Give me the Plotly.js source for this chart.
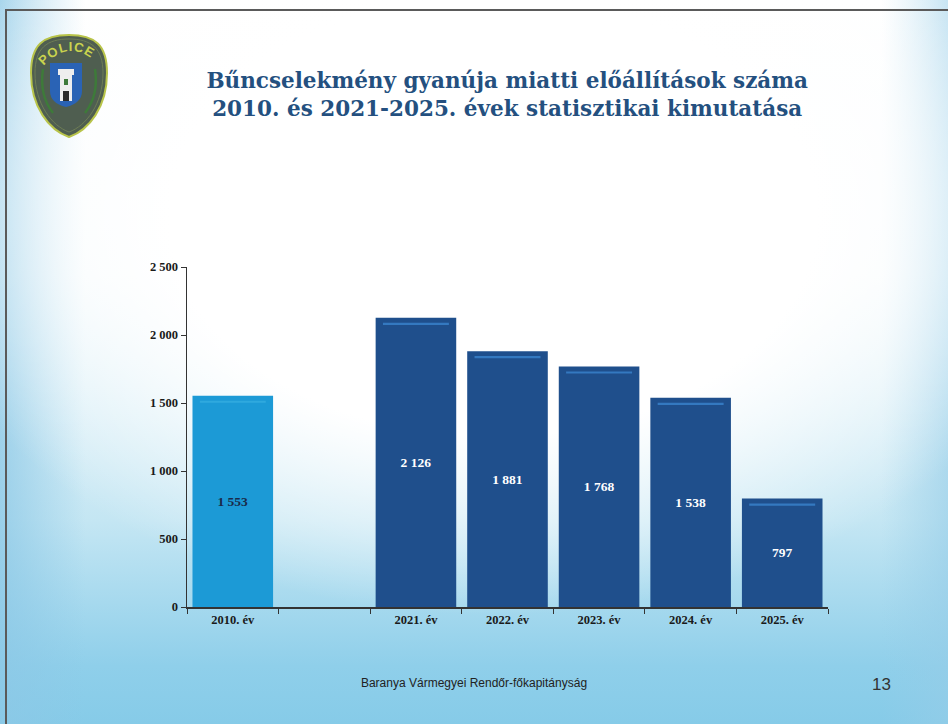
<!DOCTYPE html>
<html>
<head>
<meta charset="utf-8">
<script src="https://cdn.plot.ly/plotly-3.0.1.min.js"></script>
<style>
  html, body { margin: 0; padding: 0; }
  body {
    width: 948px; height: 724px; overflow: hidden; position: relative;
    background:
      radial-gradient(ellipse 62% 55% at 52% 30%, #ffffff 55%, rgba(255,255,255,0) 100%),
      linear-gradient(to right, rgba(140,200,230,0.75) 0%, rgba(255,255,255,0) 9%, rgba(255,255,255,0) 93%, rgba(150,205,232,0.6) 100%),
      linear-gradient(to bottom, #ffffff 0%, #f4fafc 38%, #c4e6f3 72%, #8fcfea 92%, #86cbe8 100%);
  }
  #frame { position: absolute; left: 5px; top: 9px; width: 960px; height: 730px;
           border-top: 2px solid #5a5a5a; border-left: 2px solid #5a5a5a; box-sizing: border-box; }
  #chart { position: absolute; left: 0; top: 0; width: 948px; height: 724px; }
  #logo { position: absolute; left: 29px; top: 33px; width: 80px; height: 106px; }
  .foot { position: absolute; font-family: "Liberation Sans", Arial, sans-serif; color: #222; }
</style>
</head>
<body>
<div id="frame"></div>
<svg id="logo" viewBox="0 0 80 106">
  <defs>
    <path id="arcTop" d="M 12 36 Q 40 2 70 32" />
  </defs>
  <path d="M 40 2 C 66 2 78 12 78 40 C 78 74 60 97 40 104 C 20 97 2 74 2 40 C 2 12 14 2 40 2 Z"
        fill="#4f5e50" stroke="#b8c44a" stroke-width="2"/>
  <path d="M 40 6 C 62 6 74 15 74 40 C 74 71 57 93 40 99 C 23 93 6 71 6 40 C 6 15 18 6 40 6 Z"
        fill="none" stroke="#6d7d55" stroke-width="1"/>
  <text font-family="Liberation Sans, Arial" font-weight="bold" font-size="13" fill="#c9d34e" letter-spacing="1">
    <textPath href="#arcTop" startOffset="4">POLICE</textPath>
  </text>
  <path d="M 14 36 Q 10 62 24 80" fill="none" stroke="#3e7a3a" stroke-width="2.5"/>
  <path d="M 66 36 Q 70 62 56 80" fill="none" stroke="#3e7a3a" stroke-width="2.5"/>
  <path d="M 21 30 H 53 V 58 Q 53 70 37 74 Q 21 70 21 58 Z" fill="#2a63b5"/>
  <rect x="31" y="40" width="12" height="28" fill="#eeeeee"/>
  <rect x="29" y="36" width="16" height="6" fill="#eeeeee"/>
  <rect x="34" y="58" width="6" height="10" fill="#2b2b2b"/>
  <rect x="35" y="46" width="4" height="6" fill="#3e7a3a"/>
</svg>
<div id="chart"></div>
<div class="foot" style="left:0;width:948px;top:676px;text-align:center;font-size:12px;">Baranya Vármegyei Rendőr-főkapitányság</div>
<div class="foot" style="left:872px;top:675px;font-size:17px;color:#333;">13</div>
<script>
const categories = ["2010. év", " ", "2021. év", "2022. év", "2023. év", "2024. év", "2025. év"];
const values = [1553, null, 2126, 1881, 1768, 1538, 797];
const barColors = ["#1c9ad6", "#1f4f8c", "#1f4f8c", "#1f4f8c", "#1f4f8c", "#1f4f8c", "#1f4f8c"];
const stripeColors = ["#2fa9de", "#3479c0", "#3479c0", "#3479c0", "#3479c0", "#3479c0", "#3479c0"];
const labelColors = ["#1a2a4a", "#ffffff", "#ffffff", "#ffffff", "#ffffff", "#ffffff", "#ffffff"];
const yTicks = [0, 500, 1000, 1500, 2000, 2500];
const titleText = "Bűncselekmény gyanúja miatti előállítások száma<br>2010. és 2021-2025. évek statisztikai kimutatása";

const serif = "Liberation Serif, Times New Roman, serif";

const mainBars = {
  type: "bar",
  x: categories,
  y: values,
  width: 0.88,
  marker: { color: barColors, line: { width: 0 } },
  texttemplate: "%{y:,d}",
  textposition: "inside",
  insidetextanchor: "middle",
  textangle: 0,
  textfont: { family: serif, size: 13.5, color: labelColors, weight: "bold" },
  hoverinfo: "skip"
};

// thin lighter highlight band just below the top of each bar (decorative)
const stripeBars = {
  type: "bar",
  x: categories,
  y: values.map(v => (v === null ? null : 16)),
  base: values.map(v => (v === null ? null : v - 52)),
  width: 0.72,
  marker: { color: stripeColors, line: { width: 0 } },
  hoverinfo: "skip",
  textposition: "none"
};

const layout = {
  width: 948, height: 724,
  margin: { l: 187, r: 120, t: 267, b: 117 },
  paper_bgcolor: "rgba(0,0,0,0)",
  plot_bgcolor: "rgba(0,0,0,0)",
  separators: ", ",
  barmode: "overlay",
  showlegend: false,
  title: {
    text: titleText,
    font: { family: "DejaVu Serif, Georgia, serif", size: 21.5, color: "#24507f", weight: "bold" },
    x: 0.535, xanchor: "center",
    y: 1 - 88 / 724, yanchor: "middle", yref: "container"
  },
  xaxis: {
    type: "category",
    categoryorder: "array", categoryarray: categories,
    showline: true, linecolor: "#333", linewidth: 1.5,
    ticks: "outside", tickson: "boundaries", ticklen: 5, tickcolor: "#333",
    tickfont: { family: serif, size: 12.5, color: "#1a1a1a", weight: "bold" },
    showgrid: false, zeroline: false, fixedrange: true
  },
  yaxis: {
    range: [0, 2500],
    tickvals: yTicks,
    tickformat: ",d",
    showline: true, linecolor: "#333", linewidth: 1.5,
    ticks: "outside", ticklen: 5, tickcolor: "#333",
    tickfont: { family: serif, size: 12.5, color: "#1a1a1a", weight: "bold" },
    showgrid: false, zeroline: false, fixedrange: true
  }
};

Plotly.newPlot("chart", [mainBars, stripeBars], layout, { displayModeBar: false, staticPlot: true });
</script>
</body>
</html>
